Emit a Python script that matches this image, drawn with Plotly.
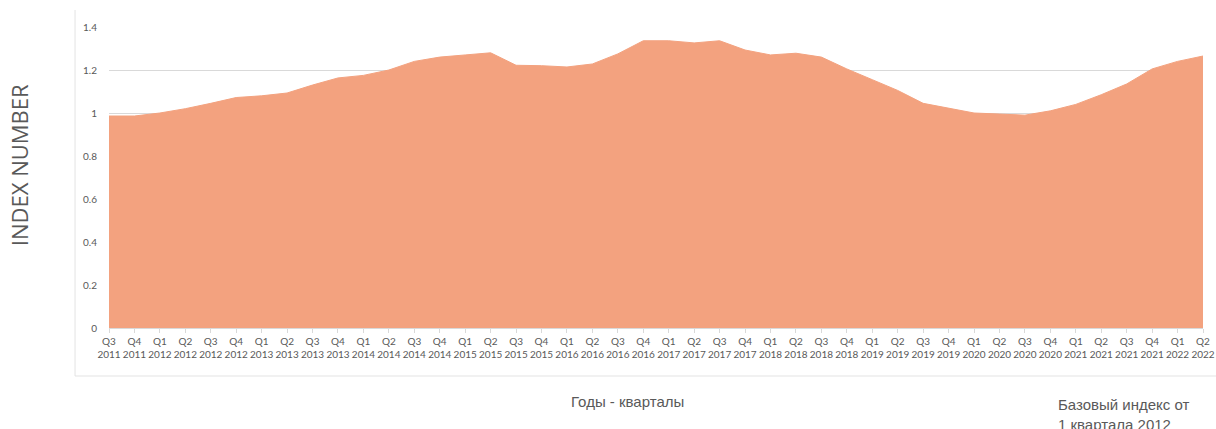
import plotly.graph_objects as go

quarters = ["Q3", "Q4"] + ["Q1", "Q2", "Q3", "Q4"] * 10 + ["Q1", "Q2"]
years = ["2011", "2011"] + [str(y) for y in range(2012, 2022) for _ in range(4)] + ["2022", "2022"]
tick_labels = [f"{q}<br>{y}" for q, y in zip(quarters, years)]

index_values = [
    0.986, 0.986,
    1.000, 1.020, 1.045, 1.072,
    1.080, 1.093, 1.130, 1.163,
    1.175, 1.200, 1.240, 1.260,
    1.270, 1.280, 1.222, 1.220,
    1.214, 1.228, 1.275, 1.336,
    1.336, 1.326, 1.336, 1.293,
    1.270, 1.278, 1.260, 1.205,
    1.155, 1.105, 1.045, 1.022,
    1.000, 0.995, 0.990, 1.010,
    1.040, 1.085, 1.135, 1.205,
    1.240, 1.265,
]

y_ticks = [0, 0.2, 0.4, 0.6, 0.8, 1, 1.2, 1.4]
y_tick_text = ["0", "0.2", "0.4", "0.6", "0.8", "1", "1.2", "1.4"]

x_pos = list(range(len(index_values)))

FONT = "Lato, 'Open Sans', sans-serif"
SANS = "'Liberation Sans', Arial, sans-serif"
GREY = "#595959"

# the captured picture comes out ~0.991 narrower than laid out; compensate
SX = 1 / 0.991
FIG_W, FIG_H = round(1216 * SX), 429

fig = go.Figure()
fig.add_trace(go.Scatter(
    x=x_pos, y=index_values, mode="lines", fill="tozeroy",
    line=dict(color="#F3A27F", width=1), fillcolor="#F3A27F",
    hoverinfo="skip", showlegend=False,
))

# plot area in screen pixels
L, R, T, B = round(108 * SX), round(1204 * SX), 27, 328
W, H = R - L, B - T

def px(xs):
    return (xs * SX - L) / W

def py(ys):
    return (B - ys) / H

fig.update_layout(
    width=FIG_W, height=FIG_H,
    margin=dict(l=L, r=FIG_W - R, t=T, b=FIG_H - B),
    paper_bgcolor="white", plot_bgcolor="white",
    font=dict(family=FONT, color=GREY, size=10),
    xaxis=dict(
        range=[0, len(index_values) - 1],
        tickmode="array", tickvals=x_pos, ticktext=tick_labels,
        tickangle=0, ticks="outside", ticklen=4, tickcolor="#d9d9d9",
        showgrid=False, showline=True, linecolor="#d9d9d9", zeroline=False,
        tickfont=dict(size=10, color=GREY, family=FONT),
    ),
    yaxis=dict(
        range=[0, 1.4],
        tickmode="array", tickvals=y_ticks, ticktext=y_tick_text,
        showgrid=True, gridcolor="#d9d9d9", gridwidth=1,
        zeroline=False, showline=False,
        ticks="outside", ticklen=9, tickcolor="rgba(0,0,0,0)",
        tickfont=dict(size=10, color=GREY, family=FONT),
    ),
    shapes=[
        dict(type="line", xref="paper", yref="paper",
             x0=px(74), x1=px(74), y0=py(376), y1=py(10),
             line=dict(color="#e3e3e3", width=1)),
        dict(type="line", xref="paper", yref="paper",
             x0=px(74), x1=px(1230), y0=py(376), y1=py(376),
             line=dict(color="#e3e3e3", width=1)),
    ],
    annotations=[
        dict(text="INDEX NUMBER", xref="paper", yref="paper",
             x=px(18), y=py(165), textangle=-90, showarrow=False,
             xanchor="center", yanchor="middle",
             font=dict(size=22, color=GREY, family="'Open Sans', sans-serif")),
        dict(text="Годы - кварталы", xref="paper", yref="paper",
             x=px(627), y=py(401), showarrow=False,
             xanchor="center", yanchor="middle",
             font=dict(size=15, color=GREY, family=SANS)),
        dict(text="Базовый индекс от<br>1 квартала 2012", xref="paper", yref="paper",
             x=px(1057), y=py(394), showarrow=False, align="left",
             xanchor="left", yanchor="top",
             font=dict(size=15, color=GREY, family=SANS)),
    ],
)

fig.write_html(
    "out.html",
    config={"displayModeBar": False},
    post_script="document.body.style.margin='0';document.body.style.overflow='hidden';",
)
